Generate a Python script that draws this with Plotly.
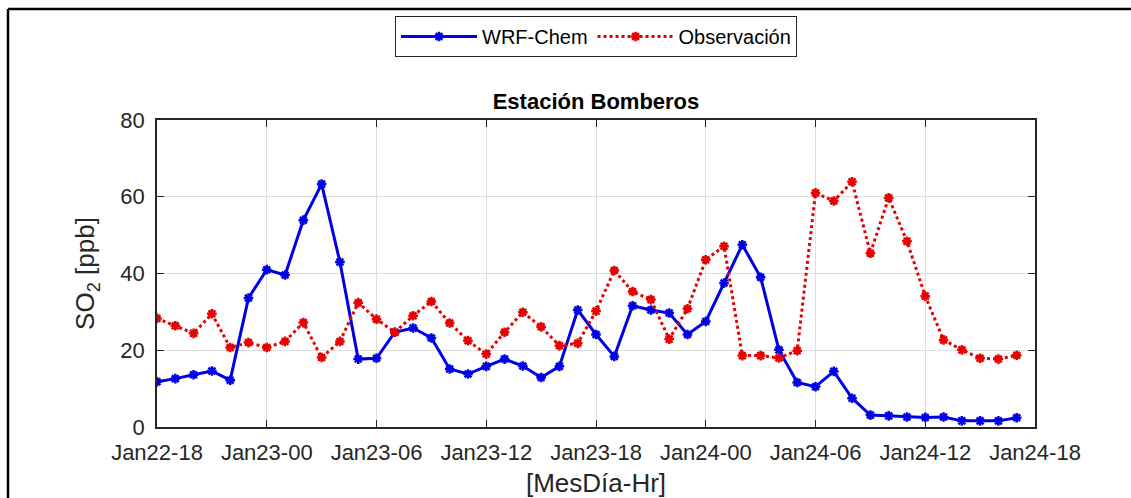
import plotly.graph_objects as go

# hours since Jan22-18
hours = list(range(48))
tick_vals = [0, 6, 12, 18, 24, 30, 36, 42, 48]
tick_text = ["Jan22-18", "Jan23-00", "Jan23-06", "Jan23-12", "Jan23-18",
             "Jan24-00", "Jan24-06", "Jan24-12", "Jan24-18"]
y_ticks = [0, 20, 40, 60, 80]

wrf_chem = [11.8, 12.6, 13.6, 14.6, 12.2, 33.6, 41.0, 39.6, 53.9, 63.3,
            43.0, 17.7, 17.9, 24.7, 25.8, 23.2, 15.1, 13.8, 15.8, 17.7,
            15.9, 12.9, 15.8, 30.5, 24.1, 18.4, 31.6, 30.5, 29.7, 24.1,
            27.5, 37.5, 47.5, 39.0, 20.1, 11.6, 10.5, 14.5, 7.5, 3.1,
            2.9, 2.6, 2.5, 2.6, 1.6, 1.6, 1.6, 2.4]

observacion = [28.3, 26.4, 24.4, 29.5, 20.7, 22.0, 20.7, 22.3, 27.2, 18.1,
               22.3, 32.4, 28.1, 24.7, 29.0, 32.7, 27.1, 22.5, 19.0, 24.7,
               29.9, 26.1, 21.2, 21.8, 30.2, 40.8, 35.3, 33.2, 22.9, 30.8,
               43.6, 47.1, 18.6, 18.6, 18.0, 19.9, 61.0, 58.9, 63.9, 45.3,
               59.7, 48.4, 34.1, 22.7, 20.1, 17.9, 17.7, 18.7]

blue = "rgb(0,0,230)"
red = "rgb(230,0,0)"
font_family = "Liberation Sans, Arial, sans-serif"

fig = go.Figure()
fig.add_trace(go.Scatter(
    x=hours, y=wrf_chem, name="WRF-Chem", mode="lines+markers",
    line=dict(color=blue, width=3),
    marker=dict(symbol="asterisk-open", size=8, color=blue, line=dict(color=blue, width=2.5)),
))
fig.add_trace(go.Scatter(
    x=hours, y=observacion, name="Observación", mode="lines+markers",
    line=dict(color=red, width=3, dash="dot"),
    marker=dict(symbol="asterisk-open", size=8, color=red, line=dict(color=red, width=2.5)),
))

L, R, T, B = 157, 96, 120, 71
W, H = 1131, 498
pw = W - L - R
ph = H - T - B

def px_x(p):
    return (p - L) / pw

def px_y(p):
    return (H - B - p) / ph

fig.update_layout(
    width=W, height=H,
    margin=dict(l=L, r=R, t=T, b=B, pad=0, autoexpand=False),
    paper_bgcolor="white", plot_bgcolor="white",
    font=dict(family=font_family, size=22, color="#262626"),
    title=dict(text="<b>Estación Bomberos</b>", x=0.5, xanchor="center",
               xref="paper", y=1 - 101 / H, yanchor="middle",
               font=dict(family=font_family, size=22, color="#000000")),
    showlegend=True,
    legend=dict(orientation="h", x=0.5, xanchor="center", y=px_y(16), yanchor="top",
                bordercolor="#262626", borderwidth=1, bgcolor="white",
                font=dict(family=font_family, size=20, color="#000000"),
                itemwidth=76, tracegroupgap=0),
    xaxis=dict(range=[0, 48], tickvals=tick_vals, ticktext=tick_text,
               showgrid=True, gridcolor="#dedede", gridwidth=1, automargin=False,
               showline=True, linecolor="#262626", linewidth=1.5, mirror="ticks",
               ticks="inside", ticklen=7, tickcolor="#262626", zeroline=False,
               ticklabelstandoff=5,
               title=dict(text="[MesDía-Hr]", standoff=11)),
    yaxis=dict(range=[0, 80], tickvals=y_ticks, automargin=False,
               showgrid=True, gridcolor="#dedede", gridwidth=1,
               showline=True, linecolor="#262626", linewidth=1.5, mirror="ticks",
               ticks="inside", ticklen=7, tickcolor="#262626", zeroline=False,
               ticklabelstandoff=6,
               title=dict(text="SO<sub>2</sub> [ppb]", standoff=18)),
    shapes=[
        dict(type="line", xref="paper", yref="paper", x0=px_x(8), x1=px_x(1140),
             y0=px_y(9), y1=px_y(9), line=dict(color="black", width=2.5)),
        dict(type="line", xref="paper", yref="paper", x0=px_x(8), x1=px_x(8),
             y0=px_y(9), y1=px_y(505), line=dict(color="black", width=2.5)),
    ],
)

fig.write_html("out.html")
